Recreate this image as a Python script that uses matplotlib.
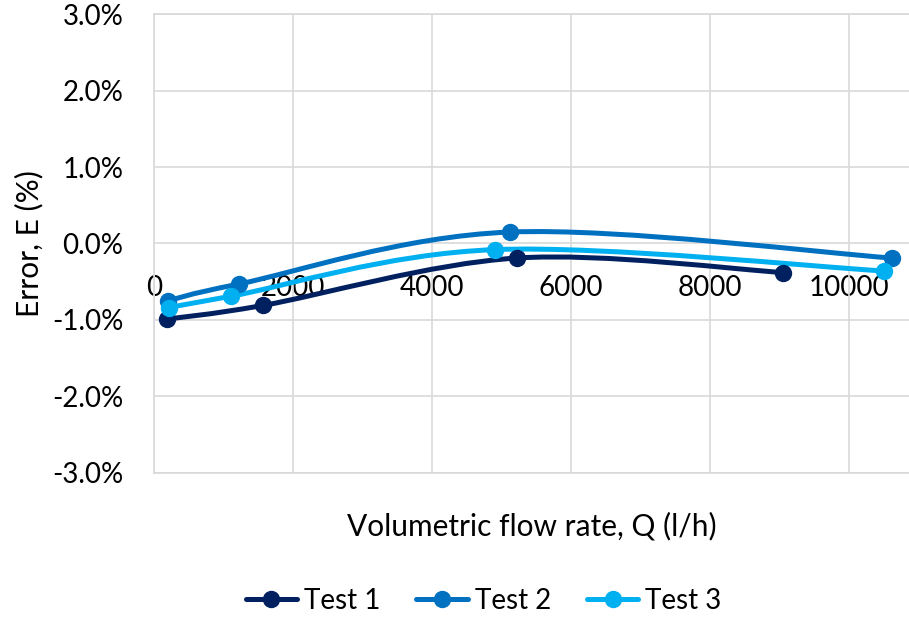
import numpy as np
import matplotlib
matplotlib.use("Agg")
import matplotlib.pyplot as plt
from matplotlib.path import Path
from matplotlib.patches import PathPatch
from matplotlib.lines import Line2D
from matplotlib.ticker import FuncFormatter

plt.rcParams['font.family'] = ['Lato', 'DejaVu Sans']

# flow rate (l/h) and error (%)
test1_q = [183, 1573, 5219, 9055]
test1_e = [-0.99, -0.81, -0.19, -0.38]
test2_q = [197, 1223, 5122, 10614]
test2_e = [-0.75, -0.53, 0.15, -0.19]
test3_q = [216, 1108, 4906, 10508]
test3_e = [-0.84, -0.69, -0.08, -0.36]

names = ['Test 1', 'Test 2', 'Test 3']
colors = ['#002060', '#0070C0', '#00B0F0']
grid_c = '#D9D9D9'


def smooth_path(x, y):
    # excel-like smoothed line: catmull-rom as cubic bezier segments
    p = np.column_stack([x, y]).astype(float)
    n = len(p)
    verts = [p[0]]
    codes = [Path.MOVETO]
    for i in range(n - 1):
        prev = p[i - 1] if i > 0 else p[i]
        nxt = p[i + 2] if i + 2 < n else p[i + 1]
        c1 = p[i] + (p[i + 1] - prev) / 6.0
        c2 = p[i + 1] - (nxt - p[i]) / 6.0
        verts += [c1, c2, p[i + 1]]
        codes += [Path.CURVE4] * 3
    return Path(verts, codes)


fig = plt.figure(figsize=(9.09, 6.17), dpi=100)
ax = fig.add_axes([0.1694, 0.2339, 0.8306, 0.7429])

series = [(test1_q, test1_e), (test2_q, test2_e), (test3_q, test3_e)]
handles = []
for (q, e), c, nm in zip(series, colors, names):
    ax.add_patch(PathPatch(smooth_path(q, e), fill=False, edgecolor=c,
                           lw=3.6, capstyle='round', zorder=3))
    ax.plot(q, e, 'o', color=c, ms=11.5, zorder=4)
    handles.append(Line2D([], [], color=c, lw=3.6, marker='o', ms=11.5,
                          solid_capstyle='round'))

ax.set_xlim(0, 10863)
ax.set_ylim(-3, 3)
ax.set_yticks(np.arange(-3, 3.01, 1))
ax.set_xticks(np.arange(0, 10001, 2000))
ax.yaxis.set_major_formatter(FuncFormatter(lambda v, p: '%.1f%%' % v))
ax.grid(True, color=grid_c, lw=1.2)
ax.set_axisbelow(True)
for s in ['left', 'top', 'bottom']:
    ax.spines[s].set_color(grid_c)
    ax.spines[s].set_linewidth(1.2)
ax.spines['right'].set_visible(False)
ax.tick_params(axis='both', length=0, labelsize=20)
ax.tick_params(axis='y', pad=22)
ax.tick_params(axis='x', labelbottom=False)

# x tick labels sit under the zero line
sec = ax.secondary_xaxis(0.5)
sec.set_xticks(np.arange(0, 10001, 2000))
sec.xaxis.set_ticks_position('bottom')
sec.tick_params(length=0, labelsize=20, pad=23,
                labelbottom=True, labeltop=False)
for s in sec.spines.values():
    s.set_visible(False)

ax.set_xlabel('Volumetric flow rate, Q (l/h)', fontsize=21.5, labelpad=28)
ax.set_ylabel('Error, E (%)', fontsize=21.5, labelpad=6)

fig.legend(handles, names, loc='center', bbox_to_anchor=(0.532, 0.026),
           ncol=3, frameon=False, fontsize=20, handlelength=1.85,
           handletextpad=0.25, columnspacing=1.3)

fig.savefig('out.png', dpi=100)
